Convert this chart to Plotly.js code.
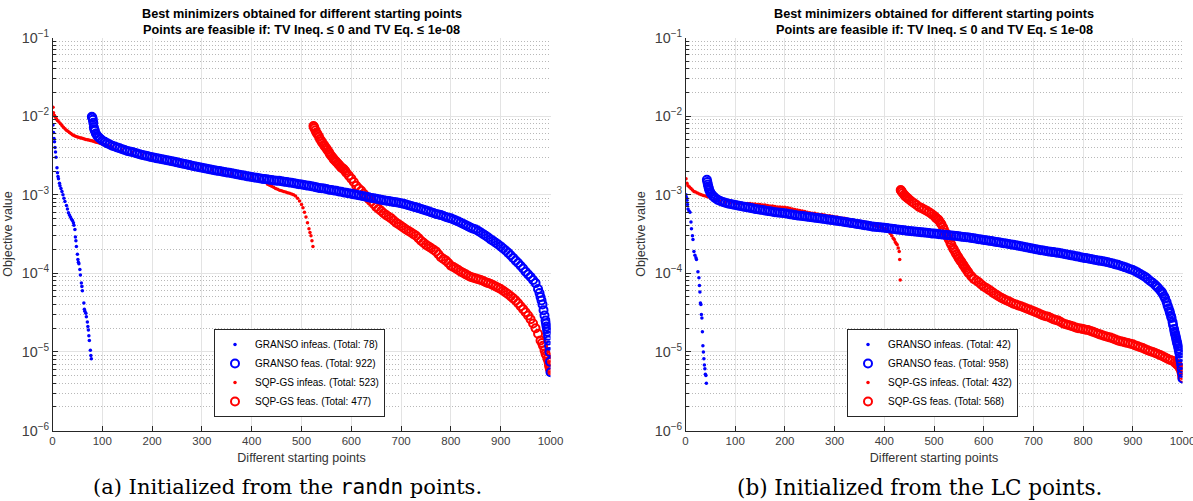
<!DOCTYPE html>
<html>
<head>
<meta charset="utf-8">
<script src="https://cdn.plot.ly/plotly-3.0.1.min.js"></script>
<style>html,body{margin:0;padding:0;background:#fff;}#chart{width:1193px;height:501px;}</style>
</head>
<body>
<div id="chart"></div>
<script>
// ---------- Panel (a): randn starting points ----------
const a_granso_infeas_x = [1,2,3,4,5,6,7,9,10,11,12,14,15,17,19,21,23,25,28,30,32,34,36,38,40,42,43,45,46,47,48,50,51,52,53,55,56,58,59,60,63,64,65,67,68,70,71,72,73,74,76,77,78];
const a_granso_infeas_y = [7.7e-3,6.2e-3,5.2e-3,4.7e-3,4.0e-3,3.5e-3,3.0e-3,2.2e-3,1.9e-3,1.7e-3,1.6e-3,1.4e-3,1.3e-3,1.2e-3,1.1e-3,1.0e-3,9.0e-4,8.2e-4,7.3e-4,6.6e-4,5.9e-4,5.5e-4,5.2e-4,4.9e-4,4.7e-4,4.4e-4,4.1e-4,3.6e-4,2.9e-4,2.6e-4,2.2e-4,1.75e-4,1.5e-4,1.38e-4,1.32e-4,1.12e-4,9.5e-5,7.5e-5,6.8e-5,6.0e-5,4.2e-5,3.5e-5,3.3e-5,3.1e-5,2.8e-5,2.4e-5,2.1e-5,1.9e-5,1.6e-5,1.4e-5,1.05e-5,9.0e-6,8.2e-6];

const a_granso_feas_x = [79,80,81,82,83,84,85,87,90,93,96,100,105,110,115,120,125,130,135,140,145,150,155,160,165,170,175,180,185,190,195,200,205,210,215,220,225,230,235,240,245,250,255,260,265,270,275,280,285,290,295,300,305,310,315,320,325,330,335,340,345,350,355,360,365,370,375,380,385,390,395,400,405,410,415,420,425,430,435,440,445,450,455,460,465,470,475,480,485,490,495,500,505,510,515,520,525,530,535,540,545,550,555,560,565,570,575,580,585,590,595,600,605,610,615,620,625,630,635,640,645,650,655,660,665,670,675,680,685,690,695,700,705,710,715,720,725,730,735,740,745,750,755,760,765,770,775,780,785,790,795,800,805,810,815,820,825,830,835,840,845,850,855,860,865,870,875,880,885,890,895,900,905,910,915,920,925,930,935,940,945,950,955,960,965,970,975,978,980,982,984,986,988,990,991,992,993,994,995,996,997,998,999,1000];
const a_granso_feas_y = [9.8e-3,9.5e-3,9.0e-3,8.2e-3,7.2e-3,6.8e-3,6.5e-3,6.0e-3,5.6e-3,5.35e-3,5.15e-3,4.9e-3,4.7e-3,4.5e-3,4.35e-3,4.2e-3,4.1e-3,4.0e-3,3.9e-3,3.8e-3,3.7e-3,3.6e-3,3.55e-3,3.5e-3,3.42e-3,3.35e-3,3.28e-3,3.2e-3,3.15e-3,3.1e-3,3.05e-3,3.0e-3,2.95e-3,2.9e-3,2.86e-3,2.82e-3,2.78e-3,2.74e-3,2.7e-3,2.66e-3,2.62e-3,2.58e-3,2.54e-3,2.5e-3,2.46e-3,2.42e-3,2.38e-3,2.34e-3,2.3e-3,2.27e-3,2.23e-3,2.2e-3,2.17e-3,2.14e-3,2.11e-3,2.08e-3,2.05e-3,2.02e-3,2.0e-3,1.97e-3,1.95e-3,1.92e-3,1.9e-3,1.87e-3,1.85e-3,1.82e-3,1.8e-3,1.77e-3,1.75e-3,1.72e-3,1.7e-3,1.68e-3,1.66e-3,1.64e-3,1.62e-3,1.6e-3,1.58e-3,1.57e-3,1.55e-3,1.54e-3,1.52e-3,1.51e-3,1.5e-3,1.48e-3,1.46e-3,1.45e-3,1.43e-3,1.42e-3,1.4e-3,1.38e-3,1.36e-3,1.35e-3,1.33e-3,1.31e-3,1.3e-3,1.28e-3,1.26e-3,1.24e-3,1.22e-3,1.21e-3,1.2e-3,1.18e-3,1.16e-3,1.15e-3,1.13e-3,1.12e-3,1.1e-3,1.09e-3,1.07e-3,1.06e-3,1.04e-3,1.03e-3,1.01e-3,1.0e-3,9.85e-4,9.7e-4,9.55e-4,9.4e-4,9.25e-4,9.1e-4,9.0e-4,8.9e-4,8.75e-4,8.6e-4,8.5e-4,8.4e-4,8.3e-4,8.2e-4,8.1e-4,8.0e-4,7.9e-4,7.8e-4,7.65e-4,7.5e-4,7.35e-4,7.2e-4,7.05e-4,6.9e-4,6.75e-4,6.6e-4,6.45e-4,6.3e-4,6.15e-4,6.0e-4,5.85e-4,5.7e-4,5.6e-4,5.5e-4,5.35e-4,5.2e-4,5.1e-4,5.0e-4,4.85e-4,4.7e-4,4.55e-4,4.4e-4,4.25e-4,4.1e-4,3.95e-4,3.8e-4,3.7e-4,3.6e-4,3.45e-4,3.3e-4,3.15e-4,3.0e-4,2.85e-4,2.7e-4,2.58e-4,2.45e-4,2.32e-4,2.2e-4,2.07e-4,1.95e-4,1.82e-4,1.7e-4,1.57e-4,1.45e-4,1.35e-4,1.25e-4,1.15e-4,1.05e-4,9.7e-5,9.0e-5,8.2e-5,7.5e-5,6.3e-5,5.6e-5,5.0e-5,4.5e-5,4.0e-5,3.4e-5,2.9e-5,2.5e-5,2.3e-5,2.1e-5,1.95e-5,1.8e-5,1.6e-5,1.4e-5,1.2e-5,1.0e-5,7.5e-6,5.5e-6];

const a_sqp_infeas_x = [1,2,4,6,8,10,13,16,19,22,25,28,31,34,37,40,43,46,49,52,55,58,61,64,67,70,73,76,79,82,85,88,91,94,97,100,103,106,109,112,115,118,121,140,160,180,200,220,240,260,280,300,320,340,360,380,400,415,425,432,436,440,444,448,452,456,460,464,468,472,476,480,484,488,492,496,500,503,506,509,512,515,517,519,521,523];
const a_sqp_infeas_y = [1.3e-2,1.1e-2,1.02e-2,9.7e-3,9.2e-3,8.8e-3,8.4e-3,8.0e-3,7.6e-3,7.2e-3,6.9e-3,6.6e-3,6.4e-3,6.2e-3,6.0e-3,5.8e-3,5.65e-3,5.55e-3,5.45e-3,5.4e-3,5.3e-3,5.25e-3,5.2e-3,5.1e-3,5.05e-3,5.0e-3,4.95e-3,4.9e-3,4.85e-3,4.8e-3,4.72e-3,4.66e-3,4.6e-3,4.54e-3,4.48e-3,4.4e-3,4.35e-3,4.3e-3,4.25e-3,4.2e-3,4.15e-3,4.1e-3,4.0e-3,3.7e-3,3.45e-3,3.2e-3,3.0e-3,2.8e-3,2.65e-3,2.5e-3,2.35e-3,2.2e-3,2.08e-3,1.97e-3,1.87e-3,1.77e-3,1.68e-3,1.58e-3,1.5e-3,1.36e-3,1.32e-3,1.28e-3,1.24e-3,1.2e-3,1.17e-3,1.14e-3,1.12e-3,1.1e-3,1.08e-3,1.06e-3,1.04e-3,1.02e-3,1.0e-3,9.6e-4,9.0e-4,8.3e-4,7.5e-4,6.8e-4,6.0e-4,5.2e-4,4.4e-4,3.7e-4,3.3e-4,3.0e-4,2.6e-4,2.2e-4];

const a_sqp_feas_x = [524,525,526,528,530,532,535,537,540,542,545,547,550,552,555,557,560,563,565,568,570,573,575,578,580,583,585,588,590,595,600,605,610,615,620,625,630,635,640,645,650,655,660,665,670,675,680,685,690,695,700,705,710,715,720,725,730,735,740,745,750,755,760,765,770,775,780,785,790,795,800,805,810,815,820,825,830,835,840,845,850,855,860,865,870,875,880,885,890,895,900,905,910,915,920,925,930,935,940,945,950,955,960,965,970,975,980,983,985,988,990,992,994,996,997,998,999,1000];
const a_sqp_feas_y = [7.5e-3,7.3e-3,7.0e-3,6.6e-3,6.2e-3,5.9e-3,5.5e-3,5.1e-3,4.8e-3,4.55e-3,4.3e-3,4.1e-3,3.9e-3,3.7e-3,3.5e-3,3.3e-3,3.1e-3,2.95e-3,2.8e-3,2.7e-3,2.6e-3,2.5e-3,2.4e-3,2.3e-3,2.2e-3,2.15e-3,2.1e-3,2.0e-3,1.9e-3,1.75e-3,1.6e-3,1.45e-3,1.3e-3,1.2e-3,1.12e-3,1.03e-3,9.5e-4,8.8e-4,8.2e-4,7.6e-4,7.0e-4,6.6e-4,6.2e-4,5.8e-4,5.5e-4,5.25e-4,5.0e-4,4.7e-4,4.4e-4,4.2e-4,4.0e-4,3.8e-4,3.6e-4,3.45e-4,3.3e-4,3.15e-4,3.0e-4,2.8e-4,2.6e-4,2.45e-4,2.3e-4,2.2e-4,2.1e-4,2.0e-4,1.9e-4,1.75e-4,1.6e-4,1.52e-4,1.45e-4,1.35e-4,1.25e-4,1.2e-4,1.15e-4,1.1e-4,1.05e-4,1.01e-4,9.7e-5,9.3e-5,9.0e-5,8.8e-5,8.6e-5,8.4e-5,8.2e-5,8.0e-5,7.7e-5,7.5e-5,7.3e-5,7.05e-5,6.8e-5,6.55e-5,6.3e-5,6.0e-5,5.7e-5,5.4e-5,5.1e-5,4.8e-5,4.5e-5,4.15e-5,3.8e-5,3.5e-5,3.2e-5,2.9e-5,2.6e-5,2.3e-5,2.0e-5,1.7e-5,1.4e-5,1.3e-5,1.2e-5,1.05e-5,9.5e-6,9.0e-6,8.2e-6,7.5e-6,6.8e-6,6.4e-6,6.1e-6,5.8e-6];

// ---------- Panel (b): LC starting points ----------
const b_granso_infeas_x = [1,2,3,4,5,7,9,11,12,14,15,17,19,21,22,25,27,28,29,30,31,32,33,34,35,36,37,38,39,40,41,42];
const b_granso_infeas_y = [1.0e-3,9.2e-4,8.5e-4,7.5e-4,6.6e-4,6.2e-4,6.0e-4,4.5e-4,3.7e-4,3.0e-4,2.7e-4,1.9e-4,1.7e-4,1.58e-4,1.5e-4,1.05e-4,8.8e-5,7.0e-5,5.8e-5,4.2e-5,4.0e-5,3.0e-5,2.7e-5,1.8e-5,1.2e-5,1.0e-5,8.2e-6,6.8e-6,6.1e-6,5.2e-6,5.0e-6,4.0e-6];

const b_granso_feas_x = [43,44,45,46,47,48,50,52,55,58,60,65,70,75,80,85,90,95,100,105,110,115,120,125,130,135,140,145,150,155,160,165,170,175,180,185,190,195,200,205,210,215,220,225,230,235,240,245,250,255,260,265,270,275,280,285,290,295,300,305,310,315,320,325,330,335,340,345,350,355,360,365,370,375,380,385,390,395,400,405,410,415,420,425,430,435,440,445,450,455,460,465,470,475,480,485,490,495,500,505,510,515,520,525,530,535,540,545,550,555,560,565,570,575,580,585,590,595,600,605,610,615,620,625,630,635,640,645,650,655,660,665,670,675,680,685,690,695,700,705,710,715,720,725,730,735,740,745,750,755,760,765,770,775,780,785,790,795,800,805,810,815,820,825,830,835,840,845,850,855,860,865,870,875,880,885,890,895,900,905,910,915,920,925,930,935,940,945,948,951,955,958,960,963,965,968,970,972,974,975,977,978,980,981,983,984,985,986,987,988,989,990,991,992,993,994,995,996,997,998,999,1000];
const b_granso_feas_y = [1.55e-3,1.45e-3,1.35e-3,1.27e-3,1.2e-3,1.14e-3,1.07e-3,1.02e-3,9.7e-4,9.3e-4,9.0e-4,8.6e-4,8.3e-4,8.1e-4,7.9e-4,7.75e-4,7.6e-4,7.5e-4,7.4e-4,7.3e-4,7.2e-4,7.1e-4,7.0e-4,6.9e-4,6.8e-4,6.7e-4,6.6e-4,6.52e-4,6.45e-4,6.38e-4,6.3e-4,6.22e-4,6.15e-4,6.08e-4,6.0e-4,5.95e-4,5.9e-4,5.85e-4,5.8e-4,5.72e-4,5.65e-4,5.58e-4,5.5e-4,5.45e-4,5.4e-4,5.35e-4,5.3e-4,5.25e-4,5.2e-4,5.15e-4,5.1e-4,5.05e-4,5.0e-4,4.95e-4,4.9e-4,4.85e-4,4.8e-4,4.75e-4,4.7e-4,4.65e-4,4.6e-4,4.55e-4,4.5e-4,4.45e-4,4.4e-4,4.35e-4,4.3e-4,4.25e-4,4.2e-4,4.15e-4,4.1e-4,4.05e-4,4.0e-4,3.95e-4,3.9e-4,3.88e-4,3.85e-4,3.82e-4,3.8e-4,3.76e-4,3.72e-4,3.68e-4,3.65e-4,3.62e-4,3.58e-4,3.55e-4,3.52e-4,3.48e-4,3.45e-4,3.42e-4,3.4e-4,3.38e-4,3.35e-4,3.32e-4,3.3e-4,3.28e-4,3.25e-4,3.22e-4,3.2e-4,3.18e-4,3.15e-4,3.12e-4,3.1e-4,3.08e-4,3.05e-4,3.02e-4,3.0e-4,2.98e-4,2.95e-4,2.92e-4,2.9e-4,2.88e-4,2.85e-4,2.82e-4,2.8e-4,2.76e-4,2.72e-4,2.69e-4,2.66e-4,2.63e-4,2.6e-4,2.57e-4,2.54e-4,2.51e-4,2.48e-4,2.45e-4,2.42e-4,2.39e-4,2.36e-4,2.33e-4,2.3e-4,2.27e-4,2.24e-4,2.21e-4,2.18e-4,2.15e-4,2.12e-4,2.09e-4,2.06e-4,2.03e-4,2.0e-4,1.97e-4,1.95e-4,1.92e-4,1.9e-4,1.88e-4,1.86e-4,1.84e-4,1.82e-4,1.8e-4,1.77e-4,1.75e-4,1.72e-4,1.7e-4,1.68e-4,1.65e-4,1.63e-4,1.6e-4,1.58e-4,1.56e-4,1.54e-4,1.52e-4,1.5e-4,1.48e-4,1.46e-4,1.44e-4,1.42e-4,1.4e-4,1.38e-4,1.35e-4,1.33e-4,1.3e-4,1.28e-4,1.25e-4,1.22e-4,1.19e-4,1.16e-4,1.13e-4,1.1e-4,1.06e-4,1.02e-4,9.8e-5,9.4e-5,9.0e-5,8.5e-5,8.0e-5,7.6e-5,7.1e-5,6.8e-5,6.5e-5,6.1e-5,5.8e-5,5.5e-5,5.1e-5,4.8e-5,4.3e-5,3.9e-5,3.6e-5,3.3e-5,3.1e-5,2.85e-5,2.7e-5,2.4e-5,2.2e-5,1.95e-5,1.8e-5,1.7e-5,1.6e-5,1.5e-5,1.4e-5,1.32e-5,1.25e-5,1.18e-5,1.1e-5,1.02e-5,9.5e-6,8.5e-6,7.8e-6,7.0e-6,6.2e-6,5.4e-6,4.6e-6];

const b_sqp_infeas_x = [1,3,5,8,11,14,17,20,24,28,32,36,40,44,50,60,70,80,90,100,105,110,115,120,125,130,135,140,145,150,155,160,165,170,175,180,185,190,195,200,205,210,215,220,225,230,235,240,245,250,255,260,265,270,275,280,285,290,295,300,305,310,315,320,325,330,335,340,345,350,355,360,365,370,375,380,385,390,395,400,404,408,412,415,418,420,422,424,426,428,430,431,432];
const b_sqp_infeas_y = [1.6e-3,1.4e-3,1.3e-3,1.25e-3,1.2e-3,1.15e-3,1.1e-3,1.08e-3,1.05e-3,1.02e-3,1.0e-3,9.8e-4,9.6e-4,9.4e-4,9.0e-4,8.5e-4,8.2e-4,8.0e-4,7.9e-4,7.8e-4,7.8e-4,7.8e-4,7.7e-4,7.7e-4,7.7e-4,7.7e-4,7.6e-4,7.6e-4,7.5e-4,7.5e-4,7.4e-4,7.4e-4,7.3e-4,7.2e-4,7.2e-4,7.1e-4,7.0e-4,7.0e-4,6.9e-4,6.9e-4,6.8e-4,6.7e-4,6.6e-4,6.5e-4,6.4e-4,6.3e-4,6.2e-4,6.1e-4,6.0e-4,5.9e-4,5.8e-4,5.8e-4,5.7e-4,5.6e-4,5.6e-4,5.5e-4,5.4e-4,5.4e-4,5.3e-4,5.2e-4,5.2e-4,5.1e-4,5.0e-4,5.0e-4,4.9e-4,4.8e-4,4.8e-4,4.7e-4,4.6e-4,4.6e-4,4.5e-4,4.5e-4,4.4e-4,4.3e-4,4.2e-4,4.1e-4,4.0e-4,3.9e-4,3.8e-4,3.7e-4,3.6e-4,3.4e-4,3.2e-4,3.0e-4,2.8e-4,2.7e-4,2.5e-4,2.4e-4,2.3e-4,2.1e-4,1.9e-4,1.5e-4,8.2e-5];

const b_sqp_feas_x = [433,434,435,437,440,442,445,447,450,455,460,465,470,475,480,485,490,495,500,503,505,508,510,513,515,518,520,523,525,528,530,533,535,538,540,543,545,548,550,553,555,558,560,563,565,568,570,575,580,585,590,595,600,605,610,615,620,625,630,635,640,645,650,655,660,665,670,675,680,685,690,695,700,705,710,715,720,725,730,735,740,745,750,755,760,765,770,775,780,785,790,795,800,805,810,815,820,825,830,835,840,845,850,855,860,865,870,875,880,885,890,895,900,905,910,915,920,925,930,935,940,945,950,955,960,965,970,975,980,985,988,990,993,995,997,998,999,1000];
const b_sqp_feas_y = [1.15e-3,1.12e-3,1.1e-3,1.05e-3,1.0e-3,9.6e-4,9.3e-4,9.0e-4,8.7e-4,8.2e-4,7.8e-4,7.4e-4,7.0e-4,6.75e-4,6.5e-4,6.25e-4,6.0e-4,5.7e-4,5.4e-4,5.15e-4,5.0e-4,4.85e-4,4.7e-4,4.4e-4,4.2e-4,3.85e-4,3.6e-4,3.3e-4,3.1e-4,2.85e-4,2.7e-4,2.45e-4,2.3e-4,2.1e-4,2.0e-4,1.85e-4,1.75e-4,1.63e-4,1.55e-4,1.45e-4,1.4e-4,1.3e-4,1.25e-4,1.17e-4,1.12e-4,1.05e-4,1.0e-4,9.2e-5,8.5e-5,8.1e-5,7.7e-5,7.2e-5,6.8e-5,6.5e-5,6.2e-5,5.9e-5,5.6e-5,5.35e-5,5.1e-5,4.9e-5,4.7e-5,4.55e-5,4.4e-5,4.25e-5,4.1e-5,4.0e-5,3.9e-5,3.8e-5,3.7e-5,3.6e-5,3.5e-5,3.4e-5,3.3e-5,3.2e-5,3.1e-5,3.0e-5,2.9e-5,2.85e-5,2.8e-5,2.7e-5,2.6e-5,2.55e-5,2.5e-5,2.4e-5,2.3e-5,2.25e-5,2.2e-5,2.15e-5,2.1e-5,2.05e-5,2.0e-5,1.98e-5,1.95e-5,1.92e-5,1.9e-5,1.85e-5,1.8e-5,1.75e-5,1.7e-5,1.66e-5,1.62e-5,1.58e-5,1.55e-5,1.52e-5,1.48e-5,1.44e-5,1.4e-5,1.37e-5,1.35e-5,1.32e-5,1.3e-5,1.27e-5,1.25e-5,1.21e-5,1.18e-5,1.15e-5,1.12e-5,1.08e-5,1.05e-5,1.02e-5,1.0e-5,9.7e-6,9.4e-6,9.1e-6,8.8e-6,8.5e-6,8.2e-6,7.9e-6,7.7e-6,7.3e-6,7.0e-6,6.8e-6,6.5e-6,6.2e-6,5.9e-6,5.5e-6,5.1e-6,4.7e-6];

// ---------- Labels ----------
const legendNames_a = ['GRANSO infeas. (Total: 78)','GRANSO feas. (Total: 922)','SQP-GS infeas. (Total: 523)','SQP-GS feas. (Total: 477)'];
const legendNames_b = ['GRANSO infeas. (Total: 42)','GRANSO feas. (Total: 958)','SQP-GS infeas. (Total: 432)','SQP-GS feas. (Total: 568)'];
const titleLine1 = '<b>Best minimizers obtained for different starting points</b>';
const titleLine2 = '<b>Points are feasible if: TV Ineq. \u2264 0 and TV Eq. \u2264 1e-08</b>';
const xTitle = 'Different starting points';
const yTitle = 'Objective value';
const caption_a = '(a) Initialized from the <span style="font-family:\'DejaVu Sans Mono\', monospace">randn</span> points.';
const caption_b = '(b) Initialized from the LC points.';

const BLUE = '#0000ff', RED = '#ff0000';
const FONT = 'Liberation Sans, Arial, Helvetica, sans-serif';
const SERIF = 'DejaVu Serif, Liberation Serif, serif';

function panelTraces(xa, ya, leg, names, gi_x, gi_y, gf_x, gf_y, si_x, si_y, sf_x, sf_y) {
  const dot = (c) => ({symbol: 'circle', size: 3.5, color: c, line: {width: 0}});
  const ring = (c) => ({symbol: 'circle-open', size: 8, color: c, line: {width: 2, color: c}});
  return [
    {x: si_x, y: si_y, name: names[2], legendrank: 3, mode: 'markers', type: 'scatter', marker: dot(RED), xaxis: xa, yaxis: ya, legend: leg},
    {x: sf_x, y: sf_y, name: names[3], legendrank: 4, mode: 'markers', type: 'scatter', marker: ring(RED), xaxis: xa, yaxis: ya, legend: leg},
    {x: gi_x, y: gi_y, name: names[0], legendrank: 1, mode: 'markers', type: 'scatter', marker: dot(BLUE), xaxis: xa, yaxis: ya, legend: leg},
    {x: gf_x, y: gf_y, name: names[1], legendrank: 2, mode: 'markers', type: 'scatter', marker: ring(BLUE), xaxis: xa, yaxis: ya, legend: leg}
  ];
}

const data = [].concat(
  panelTraces('x', 'y', 'legend', legendNames_a, a_granso_infeas_x, a_granso_infeas_y, a_granso_feas_x, a_granso_feas_y, a_sqp_infeas_x, a_sqp_infeas_y, a_sqp_feas_x, a_sqp_feas_y),
  panelTraces('x2', 'y2', 'legend2', legendNames_b, b_granso_infeas_x, b_granso_infeas_y, b_granso_feas_x, b_granso_feas_y, b_sqp_infeas_x, b_sqp_infeas_y, b_sqp_feas_x, b_sqp_feas_y)
);

const W = 1193, H = 501;
function xAxis(domain, anchor) {
  return {
    domain: domain, anchor: anchor, range: [0, 1000], tick0: 0, dtick: 100,
    ticks: 'inside', ticklen: 5, tickcolor: '#262626', tickwidth: 1,
    showline: true, linecolor: '#262626', linewidth: 1, mirror: false,
    showgrid: true, gridcolor: '#e3e3e3', gridwidth: 1, zeroline: false,
    ticklabeloverflow: 'allow',
    tickfont: {family: FONT, size: 11.5, color: '#404040'},
    title: {text: xTitle, font: {family: FONT, size: 12.5, color: '#333333'}, standoff: 6}
  };
}
function yAxis(domain, anchor) {
  return {
    domain: domain, anchor: anchor, type: 'log', range: [-6, -1], dtick: 1,
    exponentformat: 'power',
    ticks: 'inside', ticklen: 5, tickcolor: '#262626', tickwidth: 1,
    showline: true, linecolor: '#262626', linewidth: 1, mirror: false,
    showgrid: true, gridcolor: '#e3e3e3', gridwidth: 1, zeroline: false,
    minor: {dtick: 'D1', ticks: 'inside', ticklen: 3, tickcolor: '#262626', showgrid: true, gridcolor: '#b8b8b8', griddash: '1px,2px', gridwidth: 1},
    tickfont: {family: FONT, size: 11.5, color: '#404040'},
    title: {text: yTitle, font: {family: FONT, size: 12.5, color: '#333333'}, standoff: 6}
  };
}

const ydom = [1 - 430.5 / H, 1 - 37.5 / H];
const legendBase = {
  bgcolor: '#ffffff', bordercolor: '#262626', borderwidth: 1,
  font: {family: FONT, size: 10, color: '#000000'},
  xanchor: 'left', yanchor: 'bottom', tracegroupgap: 0, traceorder: 'normal', itemclick: false
};

function titleAnn(xref, text, ypx, size) {
  return {xref: xref, yref: 'paper', x: 0.5, y: 1 - ypx / H, xanchor: 'center', yanchor: 'middle',
          text: text, showarrow: false, font: {family: FONT, size: size, color: '#000000'}};
}

const layout = {
  width: W, height: H,
  margin: {l: 0, r: 0, t: 0, b: 0},
  paper_bgcolor: '#ffffff', plot_bgcolor: '#ffffff',
  xaxis: xAxis([52.5 / W, 550.5 / W], 'y'),
  yaxis: yAxis(ydom, 'x'),
  xaxis2: xAxis([685.5 / W, 1182.5 / W], 'y2'),
  yaxis2: yAxis(ydom, 'x2'),
  legend: Object.assign({}, legendBase, {x: 214 / W, y: 1 - 417 / H}),
  legend2: Object.assign({}, legendBase, {x: 847 / W, y: 1 - 417 / H}),
  annotations: [
    titleAnn('x domain', titleLine1, 13.5, 12.7),
    titleAnn('x domain', titleLine2, 29.5, 12.7),
    titleAnn('x2 domain', titleLine1, 13.5, 12.7),
    titleAnn('x2 domain', titleLine2, 29.5, 12.7),
    {xref: 'paper', yref: 'paper', x: 287 / W, y: 1 - 487 / H, xanchor: 'center', yanchor: 'middle', showarrow: false,
     text: caption_a, font: {family: SERIF, size: 21, color: '#000000'}},
    {xref: 'paper', yref: 'paper', x: 919 / W, y: 1 - 487 / H, xanchor: 'center', yanchor: 'middle', showarrow: false,
     text: caption_b, font: {family: SERIF, size: 21.5, color: '#000000'}}
  ],
  showlegend: true
};

Plotly.newPlot('chart', data, layout, {displayModeBar: false, staticPlot: true});
</script>
</body>
</html>
